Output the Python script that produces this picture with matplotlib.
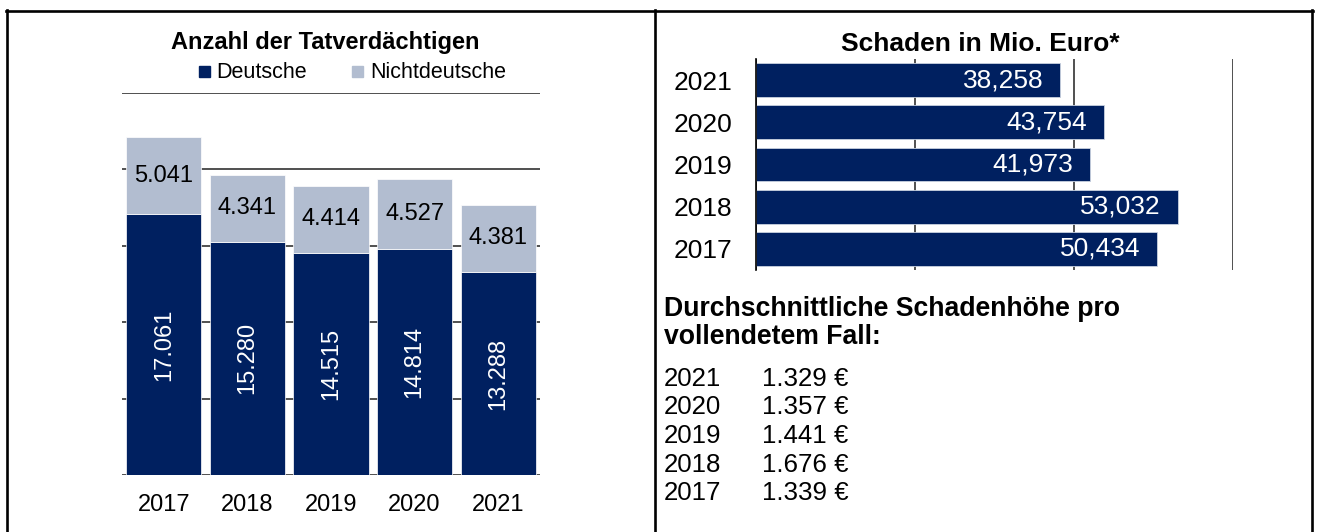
import matplotlib
matplotlib.use("Agg")
import matplotlib.pyplot as plt
from matplotlib.lines import Line2D
from matplotlib.patches import Rectangle

plt.rcParams['font.family'] = ['Liberation Sans', 'DejaVu Sans']

# ---- data ----
years = ['2017', '2018', '2019', '2020', '2021']
deutsche = [17061, 15280, 14515, 14814, 13288]
nichtdeutsche = [5041, 4341, 4414, 4527, 4381]

schaden_years = ['2017', '2018', '2019', '2020', '2021']
schaden = [50.434, 53.032, 41.973, 43.754, 38.258]

avg_years = ['2021', '2020', '2019', '2018', '2017']
avg_values = [1329, 1357, 1441, 1676, 1339]

NAVY = '#002060'
LIGHT = '#B2BDD0'
GRID = '#202020'

W, H = 1320, 532
fig = plt.figure(figsize=(W / 100, H / 100), dpi=100)


def fx(px):
    return px / W


def fy(py):
    return 1 - py / H


def thousands(v):
    return f"{v:,}".replace(',', '.')


# ---- left chart ----
axL = fig.add_axes([fx(122), fy(475), fx(540) - fx(122), fy(93) - fy(475)])
x = list(range(len(years)))
axL.bar(x, deutsche, width=0.9, color=NAVY, edgecolor='white', linewidth=0.5, zorder=3)
axL.bar(x, nichtdeutsche, width=0.9, bottom=deutsche, color=LIGHT,
        edgecolor='white', linewidth=0.5, zorder=3)
axL.set_xlim(-0.5, 4.5)
axL.set_ylim(0, 25000)
axL.set_yticks(range(0, 25001, 5000))
axL.grid(axis='y', color=GRID, linewidth=1.1, zorder=0)
axL.set_axisbelow(True)
axL.tick_params(axis='y', length=0, labelleft=False)
axL.set_xticks(x)
axL.set_xticklabels(years, fontsize=17)
axL.tick_params(axis='x', length=0, pad=14)
for s in axL.spines.values():
    s.set_visible(False)
for i in x:
    axL.text(i, deutsche[i] / 2, thousands(deutsche[i]), rotation=90,
             ha='center', va='center', color='white', fontsize=17, zorder=4)
    axL.text(i, deutsche[i] + nichtdeutsche[i] / 2, thousands(nichtdeutsche[i]),
             ha='center', va='center', color='black', fontsize=17, zorder=4)

fig.text(fx(325), fy(42), 'Anzahl der Tatverdächtigen', ha='center', va='center',
         fontsize=17, fontweight='bold')
# legend
fig.patches.append(Rectangle((fx(199), fy(77)), fx(11), fy(66) - fy(77),
                             transform=fig.transFigure, color=NAVY))
fig.text(fx(216), fy(72), 'Deutsche', ha='left', va='center', fontsize=15.5)
fig.patches.append(Rectangle((fx(352), fy(77)), fx(11), fy(66) - fy(77),
                             transform=fig.transFigure, color=LIGHT))
fig.text(fx(370), fy(72), 'Nichtdeutsche', ha='left', va='center', fontsize=15.5)

# ---- right chart ----
axR = fig.add_axes([fx(756), fy(270), fx(1233) - fx(756), fy(59) - fy(270)])
yR = list(range(len(schaden_years)))
axR.barh(yR, schaden, height=0.8, color=NAVY, edgecolor='#c9d1e0', linewidth=0.6, zorder=3)
axR.set_xlim(0, 60)
axR.set_ylim(-0.5, 4.5)
axR.set_xticks([0, 20, 40, 60])
axR.grid(axis='x', color=GRID, linewidth=1.1, zorder=0)
axR.set_axisbelow(True)
axR.tick_params(axis='x', length=0, labelbottom=False)
axR.set_yticks(yR)
axR.set_yticklabels(schaden_years, fontsize=19)
axR.tick_params(axis='y', length=0, pad=17)
for name, s in axR.spines.items():
    if name == 'left':
        s.set_color('black')
        s.set_linewidth(1.2)
        s.set_zorder(5)
    else:
        s.set_visible(False)
for i in yR:
    axR.annotate(f"{schaden[i]:.3f}".replace('.', ','), xy=(schaden[i], i),
                 xytext=(-12, 0), textcoords='offset points',
                 ha='right', va='center', color='white', fontsize=19, zorder=4)

fig.text(fx(980), fy(44), 'Schaden in Mio. Euro*', ha='center', va='center',
         fontsize=19, fontweight='bold')

# text block
fig.text(fx(664), fy(316), 'Durchschnittliche Schadenhöhe pro', ha='left',
         va='baseline', fontsize=19.2, fontweight='bold')
fig.text(fx(664), fy(344), 'vollendetem Fall:', ha='left', va='baseline',
         fontsize=19.2, fontweight='bold')
row_base = [386, 414.5, 443, 471.5, 500]
for yr, val, yb in zip(avg_years, avg_values, row_base):
    fig.text(fx(664), fy(yb), yr, ha='left', va='baseline', fontsize=18.6)
    fig.text(fx(762), fy(yb), thousands(val) + ' €', ha='left', va='baseline',
             fontsize=18.6)

# ---- table borders ----
lw = 1.9
fig.add_artist(Line2D([fx(6), fx(1313)], [fy(11), fy(11)], color='black', lw=lw,
                      transform=fig.transFigure))
for xp in (7, 655, 1312):
    fig.add_artist(Line2D([fx(xp), fx(xp)], [fy(10), 0], color='black', lw=lw,
                          transform=fig.transFigure))

fig.savefig('out.png', dpi=100)
